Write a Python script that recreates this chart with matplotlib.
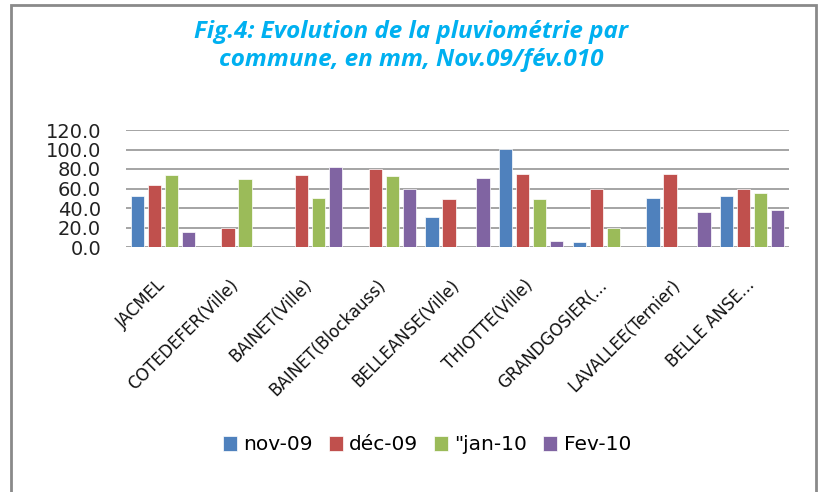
import numpy as np
import matplotlib
matplotlib.use("Agg")
import matplotlib.pyplot as plt
import matplotlib.transforms as mtransforms
from matplotlib.patches import Rectangle

# ── Data (mm) ─────────────────────────────────────
communes = ["JACMEL", "COTEDEFER(Ville)", "BAINET(Ville)", "BAINET(Blockauss)",
            "BELLEANSE(Ville)", "THIOTTE(Ville)", "GRANDGOSIER(...",
            "LAVALLEE(Ternier)", "BELLE ANSE..."]
nov_09 = [52.5, 0, 0, 0, 30.4, 100.5, 5.1, 50.2, 52.6]
dec_09 = [64.1, 19.6, 74.0, 79.6, 48.8, 75.2, 60.0, 75.0, 60.0]
jan_10 = [73.8, 69.7, 50.0, 72.4, 0, 48.8, 19.6, 0, 55.4]
fev_10 = [15.7, 0, 81.6, 60.0, 71.0, 6.5, 0, 35.5, 38.3]

series = [("nov-09", nov_09), ("déc-09", dec_09), ('"jan-10', jan_10), ("Fev-10", fev_10)]
colors = ["#4F81BD", "#C0504D", "#9BBB59", "#8064A2"]
yticks = [0, 20, 40, 60, 80, 100, 120]

W, H = 822, 492
fig = plt.figure(figsize=(W / 100, H / 100), dpi=100)
fig.patch.set_facecolor("white")

# outer frame (open at the bottom, like the cropped original)
fig.add_artist(Rectangle((11 / W, -0.05), (816 - 11) / W, 1.05 - 5 / H,
                         transform=fig.transFigure, fill=False,
                         edgecolor="#8a8a8a", linewidth=2))

fig.text(411 / W, 1 - 46 / H,
         "Fig.4: Evolution de la pluviométrie par\ncommune, en mm, Nov.09/fév.010",
         ha="center", va="center", color="#00B0F0", fontsize=17.5,
         fontfamily="Open Sans", fontweight="bold", fontstyle="italic", linespacing=1.22)

ax = fig.add_axes([126 / W, 1 - 247 / H, 663 / W, 117 / H])
x = np.arange(len(communes))
step, bw = 0.23, 0.18
for i, ((name, vals), c) in enumerate(zip(series, colors)):
    ax.bar(x + (i - 1.5) * step, vals, width=bw, color=c, label=name,
           edgecolor="white", linewidth=0.5, zorder=3)

ax.set_xlim(-0.5, len(communes) - 0.5)
ax.set_ylim(0, 120)
ax.set_yticks(yticks)
ax.set_yticklabels([f"{v:.1f}" for v in yticks], fontsize=14, color="#222222")
ax.tick_params(axis="y", length=0, pad=18)
ax.yaxis.grid(True, color="#8c8c8c", linewidth=1.1)
ax.set_axisbelow(True)
for s in ax.spines.values():
    s.set_visible(False)

ax.set_xticks(x)
ax.set_xticklabels(communes, rotation=45, ha="right", fontsize=12, color="#111111")
ax.tick_params(axis="x", length=0, pad=21)
shift = mtransforms.ScaledTranslation(6 / 100, 0, fig.dpi_scale_trans)
for lbl in ax.get_xticklabels():
    lbl.set_transform(lbl.get_transform() + shift)

fig.legend(loc="center", bbox_to_anchor=(427 / W, 1 - 445 / H), ncol=4,
           frameon=False, fontsize=14.5, handlelength=0.7, handleheight=0.7,
           handletextpad=0.3, columnspacing=0.8)

fig.savefig("out.png", dpi=100, facecolor="white")
